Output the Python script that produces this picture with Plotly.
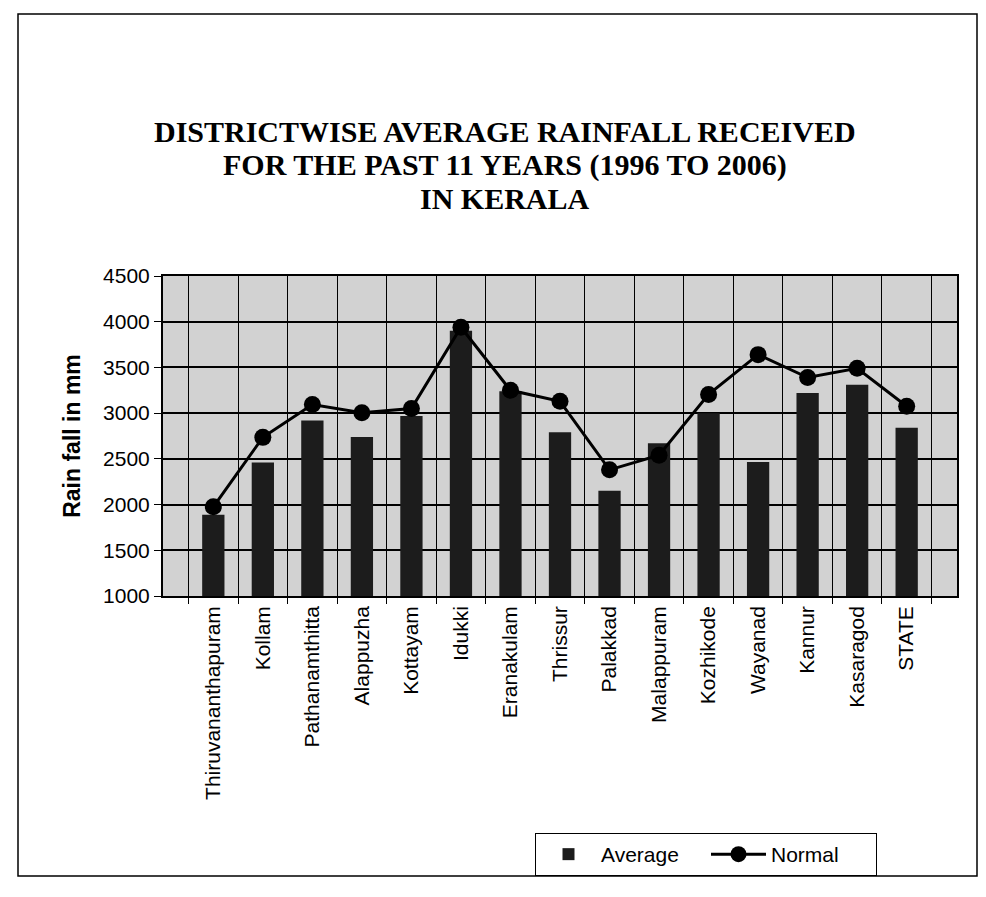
import plotly.graph_objects as go

districts = ["Thiruvananthapuram", "Kollam", "Pathanamthitta", "Alappuzha", "Kottayam",
             "Idukki", "Eranakulam", "Thrissur", "Palakkad", "Malappuram",
             "Kozhikode", "Wayanad", "Kannur", "Kasaragod", "STATE"]
average = [1890, 2460, 2920, 2740, 2970, 3900, 3240, 2790, 2150, 2670,
           3000, 2465, 3220, 3310, 2840]
normal = [1975, 2735, 3095, 3005, 3050, 3940, 3250, 3130, 2380, 2540,
          3205, 3640, 3390, 3490, 3075]
y_ticks = [1000, 1500, 2000, 2500, 3000, 3500, 4000, 4500]
title_lines = ["DISTRICTWISE AVERAGE RAINFALL RECEIVED",
               "FOR THE PAST 11 YEARS (1996 TO 2006)",
               "IN KERALA"]

OFF = 8  # page body margin
W, H = 986 - OFF, 897 - OFF
# target plot area in screen pixels: x 163..957, y 276..596
SX0, SX1, SY0, SY1 = 163, 957, 276, 596
L, T = SX0 - OFF, SY0 - OFF
R = W - (SX1 - OFF)
B = H - (SY1 - OFF)
pw, ph = SX1 - SX0, SY1 - SY0


def px(x):
    return (x - SX0) / pw


def py(y):
    return (SY1 - y) / ph


fig = go.Figure()
fig.add_trace(go.Bar(x=districts, y=average, name="Average",
                     marker=dict(color="#1c1c1c", line=dict(width=0))))
fig.add_trace(go.Scatter(x=districts, y=normal, name="Normal", mode="lines+markers",
                         line=dict(color="black", width=3),
                         marker=dict(color="black", size=17)))

sans = "Liberation Sans, Arial, sans-serif"
serif = "Liberation Serif, Times New Roman, serif"

annotations = []
for txt, yy in zip(title_lines, [131, 165, 199]):
    annotations.append(dict(text="<b>%s</b>" % txt, x=px(505), y=py(yy), xref="paper", yref="paper",
                            xanchor="center", yanchor="middle", showarrow=False,
                            font=dict(family=serif, size=30, color="black")))

fig.update_layout(
    width=W, height=H,
    margin=dict(l=L, r=R, t=T, b=B, autoexpand=False),
    paper_bgcolor="white",
    plot_bgcolor="#d2d2d2",
    bargap=0.55,
    font=dict(family=sans, color="black"),
    annotations=annotations,
    showlegend=True,
    legend=dict(orientation="h", x=px(535), y=py(833), xanchor="left", yanchor="top",
                bordercolor="black", borderwidth=1, bgcolor="white",
                font=dict(family=sans, size=21, color="black"), itemwidth=55,
                entrywidth=100, entrywidthmode="pixels"),
    shapes=[dict(type="rect", xref="paper", yref="paper",
                 x0=px(18), x1=px(977), y0=py(876), y1=py(14),
                 line=dict(color="black", width=1.5), fillcolor="rgba(0,0,0,0)")],
)

fig.update_xaxes(type="category", tickson="boundaries", ticks="outside", ticklen=6,
                 tickcolor="black", tickangle=-90, showline=True, linecolor="black",
                 linewidth=1.5, mirror=True, showgrid=True, gridcolor="black", gridwidth=1,
                 tickfont=dict(family=sans, size=21, color="black"))
fig.update_yaxes(range=[1000, 4500], tickvals=y_ticks, ticks="outside", ticklen=7,
                 tickcolor="black", showline=True, linecolor="black", linewidth=2,
                 mirror=True, showgrid=True, gridcolor="black", gridwidth=1.5,
                 zeroline=False,
                 tickfont=dict(family=sans, size=21, color="black"),
                 title=dict(text="<b>Rain fall in mm</b>", standoff=16,
                            font=dict(family=sans, size=23, color="black")))

fig.write_html("out.html")
